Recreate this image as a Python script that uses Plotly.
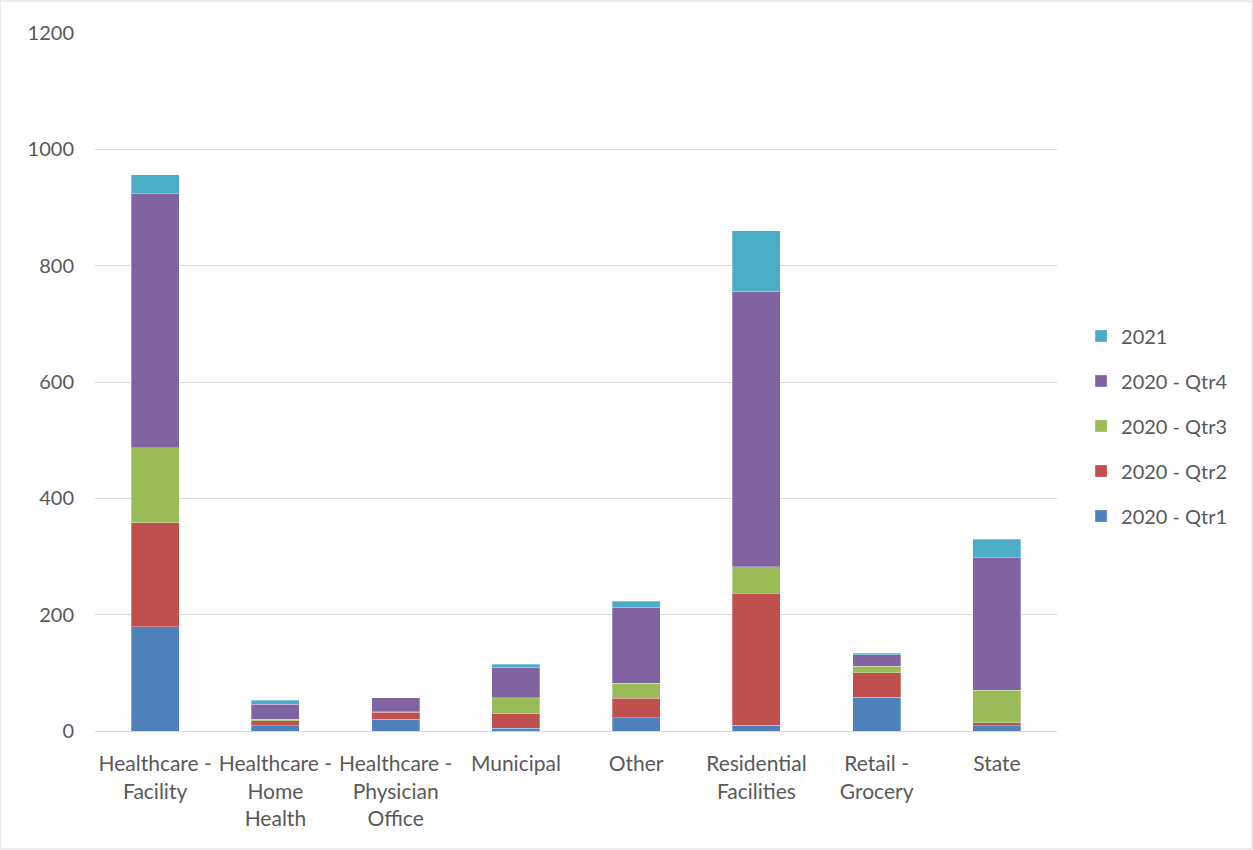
import plotly.graph_objects as go

categories = ["Healthcare -<br>Facility", "Healthcare -<br>Home<br>Health", "Healthcare -<br>Physician<br>Office",
              "Municipal", "Other", "Residential<br>Facilities", "Retail -<br>Grocery", "State"]
qtr1 = [179, 9, 20, 5, 23, 10, 58, 9]
qtr2 = [179, 9, 12, 25, 33, 227, 42, 5]
qtr3 = [129, 2, 1, 27, 26, 45, 11, 56]
qtr4 = [437, 26, 24, 53, 131, 474, 20, 228]
y2021 = [32, 7, 0, 5, 10, 104, 3, 32]

series = [("2020 - Qtr1", qtr1, "#4f81bd"), ("2020 - Qtr2", qtr2, "#c0504d"),
          ("2020 - Qtr3", qtr3, "#9bbb59"), ("2020 - Qtr4", qtr4, "#8064a2"),
          ("2021", y2021, "#4bacc6")]

fig = go.Figure()
n = len(series)
for i, (name, vals, col) in enumerate(series):
    fig.add_trace(go.Bar(x=categories, y=vals, name=name, marker_color=col, legendgroup=name,
                         legendrank=(n - i) * 100,
                         marker_line_width=0.6, marker_line_color="rgba(255,255,255,0.5)"))

font_fam = "Lato, 'Open Sans', sans-serif"
fig.update_layout(
    barmode="stack", bargap=0.6,
    width=1253, height=850,
    margin=dict(l=95, r=196, t=33, b=119),
    paper_bgcolor="white", plot_bgcolor="white",
    font=dict(family=font_fam, size=20, color="#595959"),
    legend=dict(x=1.025, y=0.437, xanchor="left", yanchor="middle", traceorder="grouped",
                font=dict(size=20, color="#595959"), tracegroupgap=16, itemwidth=30),
    xaxis=dict(showline=True, linecolor="#d9d9d9", linewidth=1, tickfont=dict(size=21),
               ticks="", showgrid=False, ticklabelstandoff=14),
    yaxis=dict(range=[0, 1200], dtick=200, showgrid=True, gridcolor="#d9d9d9", gridwidth=1,
               zeroline=False, showline=False, tickfont=dict(size=20), ticklabelstandoff=20),
    shapes=[dict(type="rect", xref="paper", yref="paper", x0=-95/962, x1=1+195/962,
                 y0=-118/698, y1=1+32/698, line=dict(color="#d9d9d9", width=1))],
)
fig.write_html("out.html")
